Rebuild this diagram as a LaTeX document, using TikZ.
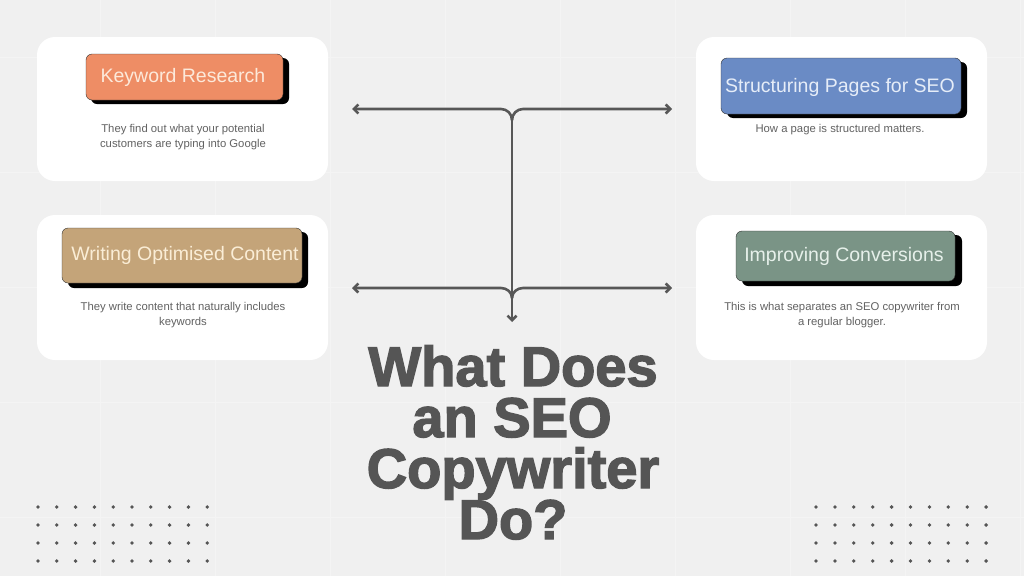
\documentclass[tikz,border=0pt]{standalone}
\usepackage{fontspec}
\setmainfont{Liberation Sans}
\newfontfamily\titlefont[BoldFeatures={FakeBold=2.5}]{Liberation Sans}
\usetikzlibrary{arrows.meta}
\definecolor{bgc}{HTML}{F0F0F0}
\definecolor{gridc}{HTML}{F4F4F4}
\definecolor{linec}{HTML}{575757}
\definecolor{descc}{HTML}{626262}
\definecolor{titlec}{HTML}{555555}
\definecolor{kwc}{HTML}{EE8D65}
\definecolor{kwt}{HTML}{FCE9DA}
\definecolor{spc}{HTML}{6A8BC5}
\definecolor{spt}{HTML}{E6EDF8}
\definecolor{woc}{HTML}{C4A479}
\definecolor{wot}{HTML}{FAEDD6}
\definecolor{icc}{HTML}{7A9486}
\definecolor{ict}{HTML}{E6F0EA}
\definecolor{dotc}{HTML}{555555}
\tikzset{
  card/.style={fill=white, rounded corners=18pt},
  btn/.style={rounded corners=6pt, draw=black!80, line width=0.4pt},
  btnshadow/.style={fill=black, rounded corners=6pt},
  btntext/.style={font=\fontsize{19.5}{22}\selectfont, inner sep=0pt},
  desc/.style={font=\fontsize{11.3}{15}\selectfont, text=descc, align=center, inner sep=0pt},
  conn/.style={draw=linec, line width=2.6pt, line cap=round, line join=round},
  tip/.style={-{Straight Barb[length=4.5pt,width=9pt,line width=2.6pt]}},
  titleline/.style={font=\titlefont\bfseries\fontsize{56}{51}\selectfont, text=titlec, anchor=base, inner sep=0pt},
  dotstyle/.style={fill=dotc}
}
\begin{document}
\begin{tikzpicture}[x=1pt,y=-1pt]
\useasboundingbox (0,0) rectangle (1024,576);
\fill[bgc] (0,0) rectangle (1024,576);
% faint background grid
\foreach \gx in {100,215,330,445,560,675,790,905,1020}
  \draw[gridc, line width=1pt] (\gx,0) -- (\gx,576);
\foreach \gy in {57,172,287,402,517}
  \draw[gridc, line width=1pt] (0,\gy) -- (1024,\gy);

% cards
\fill[card] (37,37) rectangle (328,181);
\fill[card] (696,37) rectangle (987,181);
\fill[card] (37,215) rectangle (328,360);
\fill[card] (696,215) rectangle (987,360);

% buttons: shadows
\fill[btnshadow] (91,58) rectangle (289,104);
\fill[btnshadow] (727,62) rectangle (967,118);
\fill[btnshadow] (68,232) rectangle (308,288);
\fill[btnshadow] (742,235) rectangle (962,286);
% buttons
\filldraw[btn, fill=kwc] (86,54) rectangle (283,100);
\filldraw[btn, fill=spc] (721,58) rectangle (961,114);
\filldraw[btn, fill=woc] (62,228) rectangle (302,283);
\filldraw[btn, fill=icc] (736,231) rectangle (955,281);

\node[btntext, text=kwt] (kw) at (183,77) {Keyword Research};
\node[btntext, text=spt] (sp) at (840,87) {Structuring Pages for SEO};
\node[btntext, text=wot] (wo) at (185,255) {Writing Optimised Content};
\node[btntext, text=ict] (ic) at (844,256) {Improving Conversions};

\node[desc] (kwd) at (183,137.5) {They find out what your potential\\customers are typing into Google};
\node[desc] (spd) at (840,130) {How a page is structured matters.};
\node[desc] (wod) at (183,315.5) {They write content that naturally includes\\keywords};
\node[desc] (icd) at (842,315.5) {This is what separates an SEO copywriter from\\a regular blogger.};

% connectors
\coordinate (jt) at (512,120);
\coordinate (jb) at (512,298);
\coordinate (tl) at (352,109);
\coordinate (tr) at (672,109);
\coordinate (bl) at (352,288);
\coordinate (br) at (672,288);
\coordinate (down) at (512,322);
\draw[conn, tip] (jt) to[out=90,in=0] (501,109) -- (tl);
\draw[conn, tip] (jt) to[out=90,in=180] (523,109) -- (tr);
\draw[conn, tip] (jb) to[out=90,in=0] (501,288) -- (bl);
\draw[conn, tip] (jb) to[out=90,in=180] (523,288) -- (br);
\draw[conn, tip] (jt) -- (down);

% title
\node[titleline] (t1) at (513,386) {What Does};
\node[titleline] (t2) at (512,437) {an SEO};
\node[titleline] (t3) at (513,488) {Copywriter};
\node[titleline] (t4) at (513,539) {Do?};

% dot grids
\foreach \i in {0,...,9}
  \foreach \j in {0,...,3} {
    \fill[dotstyle] (38+\i*18.8,507+\j*18) circle (1.9pt);
    \fill[dotstyle] (816+\i*18.9,507+\j*18) circle (1.9pt);
  }
\end{tikzpicture}
\end{document}
